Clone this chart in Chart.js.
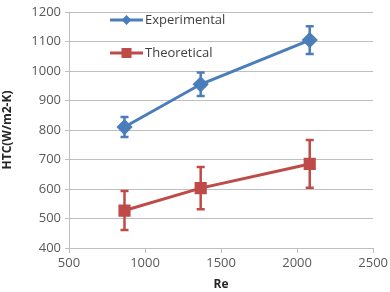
<!DOCTYPE html>
<html>
<head>
<meta charset="utf-8">
<script src="https://cdn.jsdelivr.net/npm/chart.js@4"></script>
<style>
  html, body { margin: 0; padding: 0; background: #fff; }
  #wrap { width: 390px; height: 292px; }
</style>
</head>
<body>
<div id="wrap"><canvas id="chart" width="390" height="292"></canvas></div>
<script>
// data
const reynolds       = [865, 1366, 2083];
const experimental   = [810, 955, 1105];
const experimentalErr = [34, 40, 47];
const theoretical    = [527, 603, 685];
const theoreticalErr = [66, 72, 81];
const xTicks = [500, 1000, 1500, 2000, 2500];
const yTicks = [400, 500, 600, 700, 800, 900, 1000, 1100, 1200];

const BLUE = '#4a7ebb', RED = '#be4b48';
const FONT = "'Open Sans', 'Liberation Sans', sans-serif";

function pts(ys, errs) {
  return reynolds.map((x, i) => ({ x, y: ys[i], err: errs[i] }));
}

// vertical error bars, drawn from the data through the scales
const errorBars = {
  id: 'errorBars',
  afterDatasetsDraw(chart) {
    const ctx = chart.ctx, xs = chart.scales.x, ys = chart.scales.y;
    chart.data.datasets.forEach(ds => {
      ctx.save();
      ctx.strokeStyle = ds.borderColor;
      ctx.lineWidth = 2.5;
      ds.data.forEach(p => {
        const px = xs.getPixelForValue(p.x);
        const top = ys.getPixelForValue(p.y + p.err);
        const bot = ys.getPixelForValue(p.y - p.err);
        ctx.beginPath();
        ctx.moveTo(px, top); ctx.lineTo(px, bot);
        ctx.moveTo(px - 4, top); ctx.lineTo(px + 4, top);
        ctx.moveTo(px - 4, bot); ctx.lineTo(px + 4, bot);
        ctx.stroke();
      });
      ctx.restore();
    });
  }
};

// legend inside the plot, one entry per row
const innerLegend = {
  id: 'innerLegend',
  afterDraw(chart) {
    const ctx = chart.ctx;
    chart.data.datasets.forEach((ds, i) => {
      const y = 20 + i * 33, x0 = 110, x1 = 143;
      ctx.save();
      ctx.strokeStyle = ds.borderColor;
      ctx.lineWidth = 3;
      ctx.beginPath(); ctx.moveTo(x0, y); ctx.lineTo(x1, y); ctx.stroke();
      ctx.fillStyle = ds.borderColor;
      const cx = (x0 + x1) / 2;
      if (ds.pointStyle === 'rectRot') {
        ctx.beginPath();
        ctx.moveTo(cx, y - 5); ctx.lineTo(cx + 5, y); ctx.lineTo(cx, y + 5); ctx.lineTo(cx - 5, y);
        ctx.closePath(); ctx.fill();
      } else {
        ctx.fillRect(cx - 5, y - 5, 10, 10);
      }
      ctx.fillStyle = '#404040';
      ctx.font = '13px ' + FONT;
      ctx.textBaseline = 'middle';
      ctx.fillText(ds.label, x1 + 2, y);
      ctx.restore();
    });
  }
};

new Chart(document.getElementById('chart'), {
  type: 'scatter',
  data: {
    datasets: [
      { label: 'Experimental', data: pts(experimental, experimentalErr), showLine: true,
        borderColor: BLUE, backgroundColor: BLUE, borderWidth: 3,
        pointStyle: 'rectRot', pointRadius: 6, pointHoverRadius: 6 },
      { label: 'Theoretical', data: pts(theoretical, theoreticalErr), showLine: true,
        borderColor: RED, backgroundColor: RED, borderWidth: 3,
        pointStyle: 'rect', pointRadius: 6.5, pointHoverRadius: 6.5 }
    ]
  },
  options: {
    responsive: false,
    animation: false,
    layout: { padding: { left: 0, right: 14, top: 12, bottom: 0 } },
    plugins: { legend: { display: false }, tooltip: { enabled: false } },
    scales: {
      x: {
        type: 'linear', min: 500, max: 2500,
        afterBuildTicks: s => { s.ticks = xTicks.map(v => ({ value: v })); },
        afterFit: s => { s.height = 44; },
        grid: { drawOnChartArea: false, color: '#bfbfbf', tickLength: 5 },
        border: { color: '#bfbfbf' },
        ticks: { color: '#595959', font: { family: FONT, size: 13 }, padding: 2, maxRotation: 0,
                 callback: v => String(v) },
        title: { display: true, text: 'Re', color: '#262626',
                 font: { family: FONT, size: 12, weight: 'bold' }, padding: 0 }
      },
      y: {
        min: 400, max: 1200,
        afterBuildTicks: s => { s.ticks = yTicks.map(v => ({ value: v })); },
        afterFit: s => { s.width = 69; },
        grid: { color: '#bfbfbf', tickLength: 4 },
        border: { color: '#bfbfbf' },
        ticks: { color: '#595959', font: { family: FONT, size: 13 }, padding: 4,
                 callback: v => String(v) },
        title: { display: true, text: 'HTC(W/m2-K)', color: '#262626',
                 font: { family: FONT, size: 12, weight: 'bold' }, padding: 0 }
      }
    }
  },
  plugins: [errorBars, innerLegend]
});
</script>
</body>
</html>
